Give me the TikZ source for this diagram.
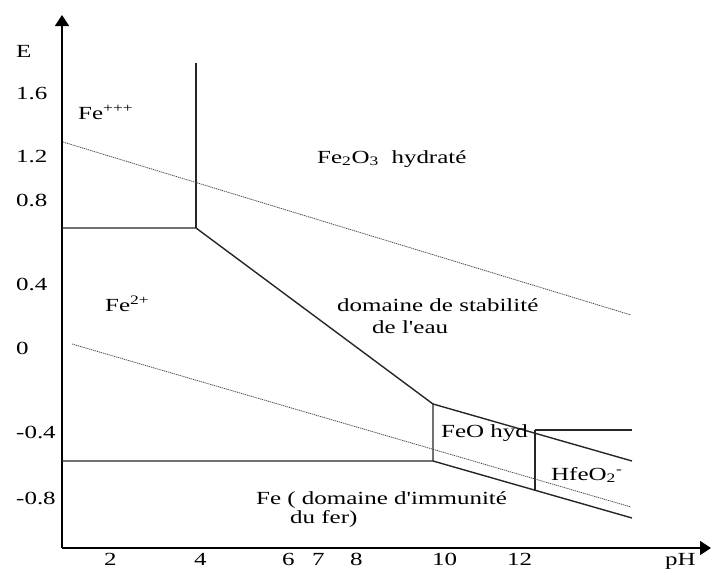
\documentclass[tikz,border=0pt]{standalone}
\usepackage{fontspec}
\setmainfont[Ligatures=TeXOff]{Liberation Serif}
\usepackage{graphicx}
\usetikzlibrary{arrows.meta}
\newcommand\sx[1]{\scalebox{1.35}[1]{#1}}
\begin{document}
\begin{tikzpicture}[x=1pt,y=-1pt,
  lbl/.style={font=\fontsize{18.5}{22}\selectfont, inner sep=0pt, anchor=base west},
  ln/.style={line width=1.4pt, black!85},
  ax/.style={line width=1.5pt, black},
  wl/.style={line width=0.8pt, gray!60!black, dash pattern=on 1.2pt off 0.8pt}]
\useasboundingbox (0,0) rectangle (711,568);
% axes
\coordinate (O) at (62,548);
\coordinate (Ytop) at (62,15);
\coordinate (Xend) at (711,548);
\draw[ax,-{Triangle[length=11pt,width=14pt]}] (O) -- (Ytop);
\draw[ax,-{Triangle[length=11pt,width=14pt]}] (O) -- (Xend);
% vertices
\coordinate (A) at (62,228);
\coordinate (B) at (196,228);
\coordinate (T) at (196,63);
\coordinate (C) at (433,404);
\coordinate (D) at (433,461);
\coordinate (L) at (62,461);
\coordinate (P) at (535,430);
\coordinate (Q) at (535,491);
\coordinate (R) at (632,430);
\coordinate (U) at (632,461);
\coordinate (W) at (632,518);
\draw[ln] (T) -- (B);
\draw[ln] (A) -- (B) -- (C) -- (D) -- (L);
\draw[ln] (C) -- (U);
\draw[ln] (D) -- (W);
\draw[ln] (P) -- (Q);
\draw[ln] (P) -- (R);
% water lines
\coordinate (w1a) at (63,142);
\coordinate (w1b) at (631,315);
\coordinate (w2a) at (72,344);
\coordinate (w2b) at (631,507);
\draw[wl] (w1a) -- (w1b);
\draw[wl] (w2a) -- (w2b);
% axis labels
\node[lbl] (lE) at (16,57) {\sx{E}};
\node[lbl] (l16) at (16,99) {\sx{1.6}};
\node[lbl] (l12) at (16,162) {\sx{1.2}};
\node[lbl] (l08) at (16,206) {\sx{0.8}};
\node[lbl] (l04) at (16,290) {\sx{0.4}};
\node[lbl] (l0) at (16,354) {\sx{0}};
\node[lbl] (lm04) at (16,438) {\sx{-0.4}};
\node[lbl] (lm08) at (16,504) {\sx{-0.8}};
\node[lbl] (x2) at (104,565) {\sx{2}};
\node[lbl] (x4) at (194,565) {\sx{4}};
\node[lbl] (x6) at (282,565) {\sx{6}};
\node[lbl] (x7) at (312,565) {\sx{7}};
\node[lbl] (x8) at (350,565) {\sx{8}};
\node[lbl] (x10) at (432,565) {\sx{10}};
\node[lbl] (x12) at (507,565) {\sx{12}};
\node[lbl] (xpH) at (665,565) {\sx{pH}};
% region labels
\node[lbl] (fe3) at (78,119) {\sx{Fe\textsuperscript{+++}}};
\node[lbl] (fe2) at (105,311) {\sx{Fe\textsuperscript{2+}}};
\node[lbl] (fe2o3) at (317,163) {\sx{Fe\textsubscript{2}O\textsubscript{3}\ \ hydrat\'e}};
\node[lbl] (eau1) at (337,311) {\sx{domaine de stabilit\'e}};
\node[lbl] (eau2) at (372,333) {\sx{de l'eau}};
\node[lbl] (feo) at (441,437) {\sx{FeO hyd}};
\node[lbl] (hfeo) at (551,480) {\sx{HfeO\textsubscript{2}\textsuperscript{-}}};
\node[lbl] (fe1) at (256,504) {\sx{Fe ( domaine d'immunit\'e}};
\node[lbl] (fe1b) at (290,523) {\sx{du fer)}};
\end{tikzpicture}
\end{document}
